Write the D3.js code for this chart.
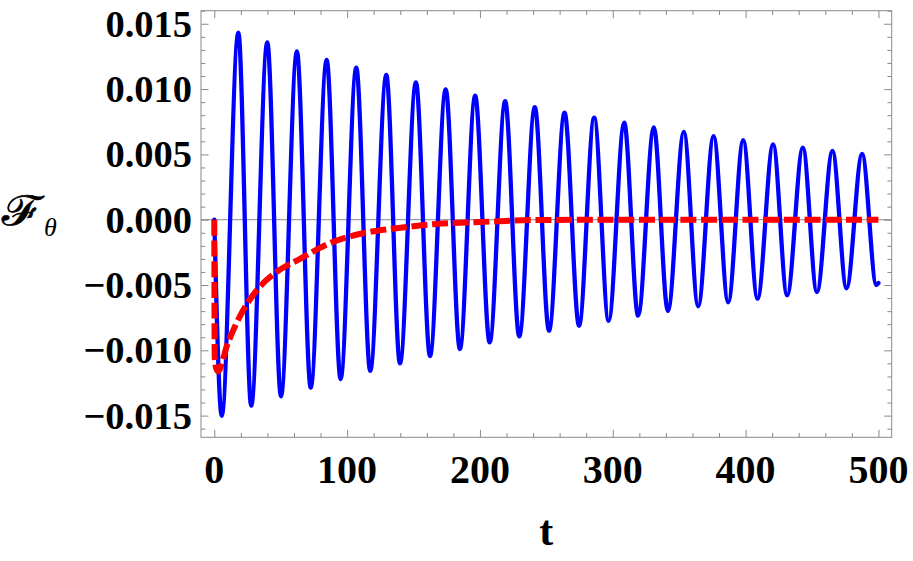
<!DOCTYPE html>
<html>
<head>
<meta charset="utf-8">
<script src="https://cdn.jsdelivr.net/npm/d3@7"></script>
<style>
  html, body { margin: 0; padding: 0; background: #fff; }
  svg { display: block; }
</style>
</head>
<body>
<svg id="chart" width="913" height="561"></svg>
<script>
// ---------- data ----------
// blue curve: start point, alternating troughs / peaks, end point
const blueT = [0, 5.6, 18.1, 27.8, 39.9, 50.2, 62.2, 72.6, 84.6, 95.1, 106.9, 117.4, 129.5, 139.8,
  151.8, 162.4, 174.2, 184.9, 196.4, 207.3, 219.0, 229.6, 241.3, 252.0, 263.7, 274.6, 286.0, 296.9,
  308.6, 319.1, 330.9, 341.5, 353.5, 364.3, 375.9, 386.9, 398.2, 409.0, 420.7, 431.3, 443.1, 453.7,
  465.4, 476.0, 487.7, 498.5, 500];
const blueV = [0, -0.01501, 0.01432, -0.01424, 0.01358, -0.01352, 0.01289, -0.01286, 0.01223, -0.01220,
  0.01164, -0.01158, 0.01108, -0.01100, 0.01052, -0.01044, 0.00998, -0.00990, 0.00949, -0.00939,
  0.00907, -0.00893, 0.00861, -0.00850, 0.00819, -0.00812, 0.00781, -0.00774, 0.00743, -0.00735,
  0.00707, -0.00699, 0.00672, -0.00663, 0.00639, -0.00632, 0.00608, -0.00605, 0.00577, -0.00579,
  0.00551, -0.00554, 0.00526, -0.00525, 0.00503, -0.00500, -0.00485];

// red dashed curve
const redT = [0, 0.3, 1.5, 3, 6.8, 9.3, 12, 19.3, 32, 47, 64.5, 87, 112, 137, 167, 200, 240, 300, 400, 500];
const redV = [0, -0.0105, -0.0114, -0.0116, -0.0106, -0.0097, -0.0090, -0.0074, -0.0054, -0.0040,
  -0.0030, -0.0018, -0.00104, -0.00066, -0.00033, -0.00018, -0.00003, 0, 0, 0];

const xMajor = [0, 100, 200, 300, 400, 500];
const xMinor = d3.range(0, 501, 20);
const yMajor = [0.015, 0.010, 0.005, 0.000, -0.005, -0.010, -0.015];
const yMinor = d3.range(-16, 17, 1).map((k) => k / 1000);
const yTickLabels = ["0.015", "0.010", "0.005", "0.000", "\u22120.005", "\u22120.010", "\u22120.015"];

// ---------- layout ----------
const frame = { left: 201, right: 891.7, top: 10.7, bottom: 437.3 };
const svg = d3.select("#chart");

const x = d3.scaleLinear().domain([-10, 510]).range([frame.left, frame.right]);
const y = d3.scaleLinear().domain([-0.01666, 0.0160]).range([frame.bottom, frame.top]);

const FRAME_COL = "#8a8a8a";

// zero axis
svg.append("line")
  .attr("x1", frame.left).attr("x2", frame.right)
  .attr("y1", y(0)).attr("y2", y(0))
  .attr("stroke", "#a0a0a0").attr("stroke-width", 1.3);

// ticks (inward, all four sides)
function tickSide(axisFn, scale, values, size, translate) {
  svg.append("g")
    .attr("transform", translate)
    .call(axisFn(scale).tickValues(values).tickSize(size).tickFormat(""))
    .call((g) => g.select(".domain").remove())
    .call((g) => g.selectAll("line").attr("stroke", FRAME_COL).attr("stroke-width", 1));
}
const xMinorOnly = xMinor.filter((v) => v % 100 !== 0);
const yMinorOnly = yMinor.filter((v) => Math.round(v * 1000) % 5 !== 0);
tickSide(d3.axisTop, x, xMajor, 7.5, `translate(0,${frame.bottom})`);
tickSide(d3.axisTop, x, xMinorOnly, 4.3, `translate(0,${frame.bottom})`);
tickSide(d3.axisBottom, x, xMajor, 7.5, `translate(0,${frame.top})`);
tickSide(d3.axisBottom, x, xMinorOnly, 4.3, `translate(0,${frame.top})`);
tickSide(d3.axisRight, y, yMajor, 7.5, `translate(${frame.left},0)`);
tickSide(d3.axisRight, y, yMinorOnly, 4.3, `translate(${frame.left},0)`);
tickSide(d3.axisLeft, y, yMajor, 7.5, `translate(${frame.right},0)`);
tickSide(d3.axisLeft, y, yMinorOnly, 4.3, `translate(${frame.right},0)`);

// frame
svg.append("rect")
  .attr("x", frame.left).attr("y", frame.top)
  .attr("width", frame.right - frame.left).attr("height", frame.bottom - frame.top)
  .attr("fill", "none").attr("stroke", FRAME_COL).attr("stroke-width", 1);

// tick labels
const labelFont = "'Liberation Serif', 'Times New Roman', serif";
svg.append("g").selectAll("text")
  .data(xMajor)
  .join("text")
  .attr("x", (d) => x(d))
  .attr("y", 482.7)
  .attr("text-anchor", "middle")
  .attr("font-family", labelFont)
  .attr("font-weight", "bold")
  .attr("font-size", 40)
  .text((d) => d);

svg.append("g").selectAll("text")
  .data(yMajor)
  .join("text")
  .attr("x", 192)
  .attr("y", (d) => y(d) + 12.9)
  .attr("text-anchor", "end")
  .attr("font-family", labelFont)
  .attr("font-weight", "bold")
  .attr("font-size", 38.5)
  .text((d, i) => yTickLabels[i]);

// axis labels
svg.append("text")
  .attr("x", (frame.left + frame.right) / 2)
  .attr("y", 545)
  .attr("text-anchor", "middle")
  .attr("font-family", labelFont)
  .attr("font-weight", "bold")
  .attr("font-size", 42)
  .text("t");

// script F is drawn a bit wider than the font's own glyph
const yl = svg.append("g").attr("transform", "translate(2,225)");
yl.append("text")
  .attr("transform", "scale(1.22,1)")
  .attr("font-family", "'DejaVu Serif', serif")
  .attr("font-size", 41)
  .attr("stroke", "#000").attr("stroke-width", 0.7)
  .text("\u2131");
yl.append("text")
  .attr("x", 42).attr("y", 11)
  .attr("font-family", labelFont)
  .attr("font-style", "italic")
  .attr("font-size", 26)
  .text("\u03b8");

// ---------- curves ----------
const line = d3.line()
  .x((d) => x(d[0]))
  .y((d) => y(d[1]))
  .curve(d3.curveMonotoneX);

svg.append("path")
  .datum(d3.zip(blueT, blueV))
  .attr("d", line)
  .attr("fill", "none")
  .attr("stroke", "#0000ff")
  .attr("stroke-width", 4.3)
  .attr("stroke-linejoin", "round")
  .attr("stroke-linecap", "round");

svg.append("path")
  .datum(d3.zip(redT, redV))
  .attr("d", line)
  .attr("fill", "none")
  .attr("stroke", "#ff0000")
  .attr("stroke-width", 6)
  .attr("stroke-dasharray", "16,4.7");
</script>
</body>
</html>
